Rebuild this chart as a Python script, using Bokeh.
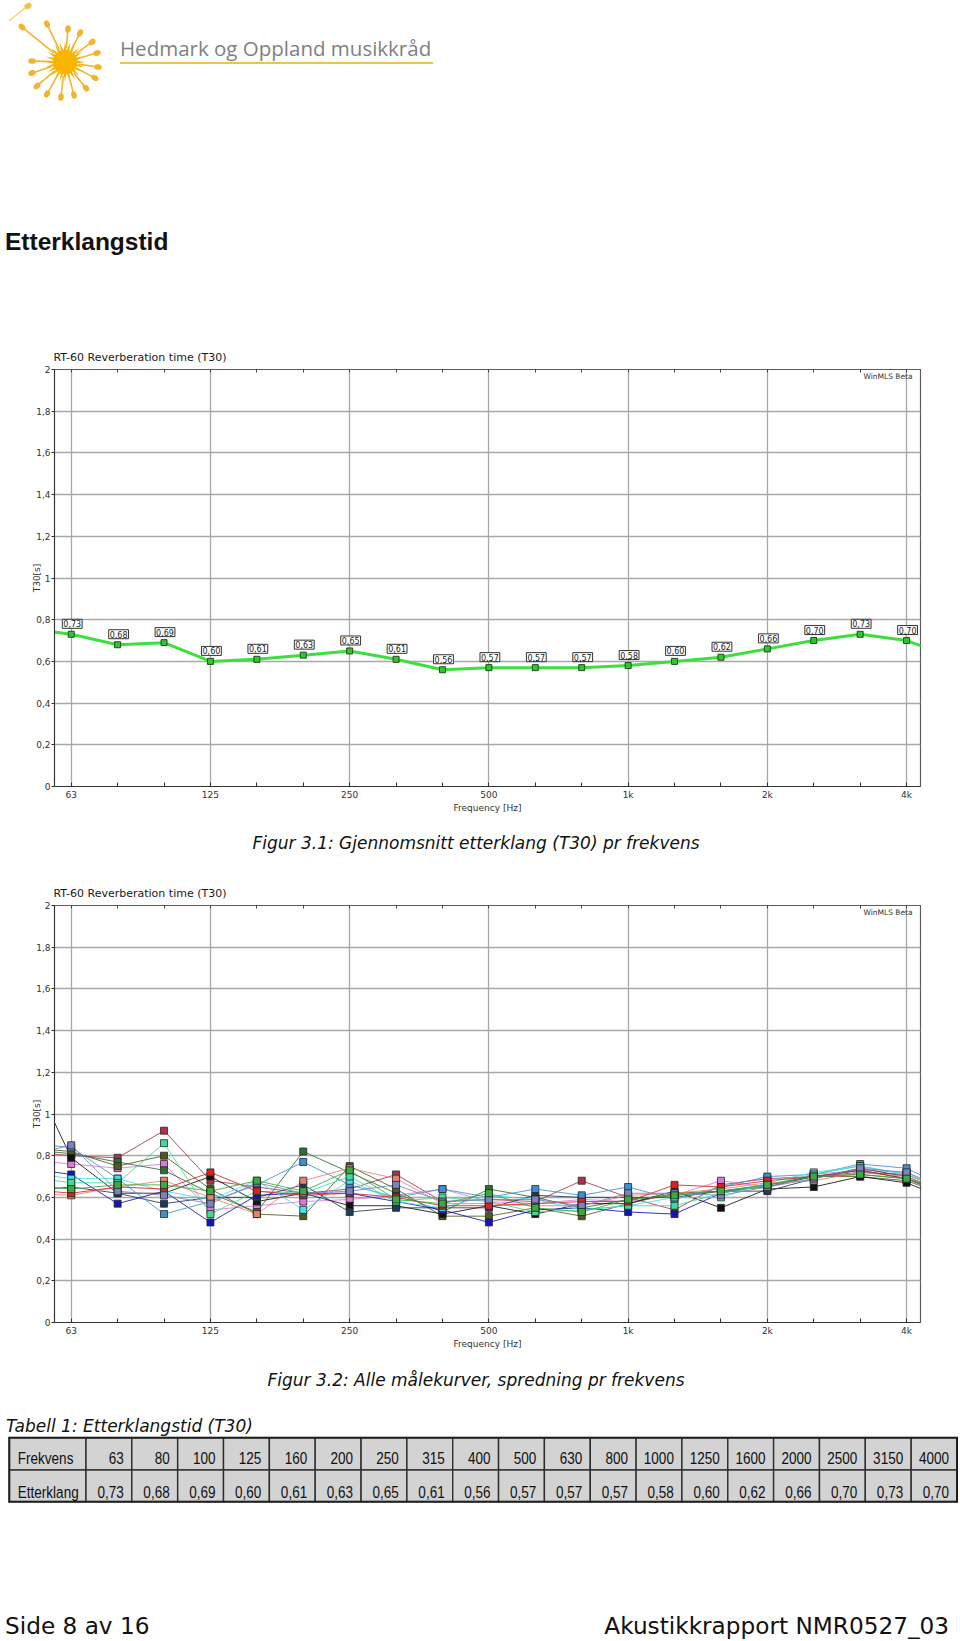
import numpy as np
from bokeh.plotting import figure
from bokeh.models import Range1d, LinearAxis, FixedTicker, Grid, Label, Title, Div
from bokeh.layouts import column
from bokeh.core.properties import value
from bokeh.embed import file_html
from bokeh.resources import INLINE

# ---------------- data ----------------
freqs = [63, 80, 100, 125, 160, 200, 250, 315, 400, 500, 630, 800, 1000, 1250, 1600, 2000, 2500, 3150, 4000]
t30_mean = [0.73, 0.68, 0.69, 0.60, 0.61, 0.63, 0.65, 0.61, 0.56, 0.57, 0.57, 0.57, 0.58, 0.60, 0.62, 0.66, 0.70, 0.73, 0.70]
edge_freqs = [50, 5000]                 # bands just outside the plotted range (curves run off the frame)
t30_mean_edge = [0.76, 0.62]
major_freqs = [63, 125, 250, 500, 1000, 2000, 4000]
x_tick_labels = ["63", "125", "250", "500", "1k", "2k", "4k"]
y_ticks = [i / 5 for i in range(11)]
y_tick_labels = ["0", "0,2", "0,4", "0,6", "0,8", "1", "1,2", "1,4", "1,6", "1,8", "2"]

# individual measurement curves, values at 50 Hz, 63 ... 4000 Hz, 5000 Hz
m01 = [0.82, 0.80, 0.79, 0.92, 0.68, 0.65, 0.62, 0.64, 0.71, 0.58, 0.59, 0.58, 0.68, 0.60, 0.54, 0.66, 0.69, 0.70, 0.72, 0.71, 0.62]
m02 = [0.78, 0.76, 0.74, 0.76, 0.54, 0.56, 0.58, 0.59, 0.61, 0.64, 0.58, 0.57, 0.59, 0.58, 0.61, 0.68, 0.65, 0.71, 0.73, 0.72, 0.63]
m03 = [0.83, 0.81, 0.77, 0.73, 0.62, 0.53, 0.82, 0.72, 0.62, 0.53, 0.64, 0.60, 0.55, 0.59, 0.61, 0.63, 0.66, 0.70, 0.71, 0.69, 0.62]
m04 = [0.84, 0.82, 0.75, 0.80, 0.64, 0.52, 0.51, 0.75, 0.64, 0.51, 0.51, 0.55, 0.51, 0.57, 0.62, 0.63, 0.65, 0.70, 0.70, 0.68, 0.60]
m05 = [1.26, 0.79, 0.62, 0.62, 0.70, 0.58, 0.62, 0.56, 0.56, 0.52, 0.56, 0.52, 0.57, 0.57, 0.63, 0.55, 0.64, 0.65, 0.70, 0.67, 0.58]
m06 = [0.63, 0.65, 0.62, 0.57, 0.60, 0.60, 0.66, 0.53, 0.55, 0.55, 0.55, 0.61, 0.60, 0.60, 0.60, 0.63, 0.63, 0.69, 0.74, 0.70, 0.61]
m07 = [0.74, 0.71, 0.57, 0.63, 0.48, 0.61, 0.62, 0.62, 0.58, 0.54, 0.48, 0.54, 0.55, 0.53, 0.52, 0.62, 0.66, 0.70, 0.73, 0.69, 0.60]
m08 = [0.86, 0.84, 0.69, 0.52, 0.58, 0.66, 0.77, 0.66, 0.60, 0.64, 0.60, 0.64, 0.61, 0.65, 0.59, 0.65, 0.70, 0.71, 0.76, 0.74, 0.63]
m09 = [0.72, 0.69, 0.69, 0.63, 0.59, 0.68, 0.54, 0.68, 0.58, 0.55, 0.61, 0.59, 0.54, 0.56, 0.60, 0.60, 0.67, 0.72, 0.75, 0.71, 0.62]
m10 = [0.70, 0.67, 0.67, 0.86, 0.52, 0.63, 0.62, 0.70, 0.58, 0.60, 0.58, 0.53, 0.54, 0.56, 0.56, 0.62, 0.66, 0.71, 0.75, 0.71, 0.62]
m11 = [0.62, 0.61, 0.65, 0.68, 0.60, 0.52, 0.68, 0.74, 0.69, 0.57, 0.57, 0.56, 0.56, 0.61, 0.62, 0.64, 0.67, 0.68, 0.72, 0.70, 0.61]
m12 = [0.64, 0.62, 0.65, 0.64, 0.72, 0.63, 0.61, 0.62, 0.60, 0.56, 0.56, 0.57, 0.58, 0.58, 0.66, 0.65, 0.68, 0.70, 0.73, 0.69, 0.60]
m13 = [0.80, 0.85, 0.63, 0.61, 0.57, 0.67, 0.62, 0.63, 0.66, 0.58, 0.59, 0.59, 0.56, 0.62, 0.62, 0.61, 0.65, 0.69, 0.74, 0.72, 0.62]
m14 = [0.66, 0.64, 0.66, 0.66, 0.63, 0.68, 0.63, 0.73, 0.59, 0.57, 0.62, 0.55, 0.53, 0.59, 0.61, 0.63, 0.66, 0.70, 0.71, 0.69, 0.60]
curves = [m01, m02, m03, m04, m05, m06, m07, m08, m09, m10, m11, m12, m13, m14]
curve_colors = ["#b0304e", "#dc78dc", "#2d6e35", "#505a1e", "#111111", "#1e3a5c", "#1414b8",
                "#3d8fd6", "#40e2ec", "#3cdc9c", "#e88070", "#d82222", "#7b82c0", "#3daa3d"]

row_labels = ["Frekvens", "Etterklang"]

logo_text = "Hedmark og Oppland musikkråd"
heading = "Etterklangstid"
chart_title = "RT-60 Reverberation time (T30)"
caption1 = "Figur 3.1: Gjennomsnitt etterklang (T30) pr frekvens"
caption2 = "Figur 3.2: Alle målekurver, spredning pr frekvens"
table_title = "Tabell 1: Etterklangstid (T30)"
footer_left = "Side 8 av 16"
footer_right = "Akustikkrapport NMR0527_03"


def comma(v):
    return f"{v:.2f}".replace(".", ",")


# ---------------- layout constants ----------------
W = 958
FONT = "DejaVu Sans"
FRAME_L, FRAME_R, FRAME_H = 54, 920, 417
band = list(range(len(freqs)))
band_ext = [-1] + band + [len(freqs)]
x_major = [freqs.index(f) for f in major_freqs]


def svg_div(y0, h, body):
    svg = (f'<svg xmlns="http://www.w3.org/2000/svg" width="{W}" height="{h}" '
           f'viewBox="0 {y0} {W} {h}" style="display:block">{body}</svg>')
    return Div(text=svg, width=W, height=h, margin=0)


def svg_text(x, y, s, family, size, anchor="start", style="normal", weight="normal",
             color="#111111", sx=1.0):
    css = (f"font-family:'{family}';font-size:{size}px;font-style:{style};"
           f"font-weight:{weight};fill:{color};text-anchor:{anchor}")
    return (f'<text transform="translate({x:.1f},{y:.1f}) scale({sx},1)" style="{css}">{s}</text>')


def chart(y0, h, frame_top):
    p = figure(width=W, height=h,
               x_range=Range1d(-0.36, len(freqs) - 1 + 0.30), y_range=Range1d(0, 2),
               x_axis_type=None, y_axis_type=None, toolbar_location=None, output_backend="svg",
               min_border_left=FRAME_L, min_border_right=W - FRAME_R,
               min_border_top=frame_top - y0, min_border_bottom=y0 + h - frame_top - FRAME_H)
    p.background_fill_color = "white"
    p.border_fill_color = "white"
    p.outline_line_color = "#5c5c5c"
    p.outline_line_width = 1.2
    p.title = Title(text=chart_title, align="left", offset=-1, standoff=11,
                    text_font=FONT, text_font_size="11px", text_font_style="normal", text_color="#1a1a1a")
    p.add_layout(Grid(dimension=0, ticker=FixedTicker(ticks=x_major),
                      grid_line_color="#a8a8a8", grid_line_width=1.3))
    p.add_layout(Grid(dimension=1, ticker=FixedTicker(ticks=y_ticks),
                      grid_line_color="#a8a8a8", grid_line_width=1.3))
    xb = LinearAxis(ticker=FixedTicker(ticks=x_major, minor_ticks=band),
                    major_label_overrides=dict(zip(x_major, x_tick_labels)),
                    axis_label="Frequency [Hz]",
                    axis_line_color="#333333", major_tick_in=0, major_tick_out=0,
                    minor_tick_in=4, minor_tick_out=0, minor_tick_line_color="#333333",
                    major_label_standoff=3, major_label_text_font=FONT, major_label_text_font_size="9px",
                    major_label_text_color="#333333",
                    axis_label_text_font=FONT, axis_label_text_font_size="9px",
                    axis_label_text_font_style="normal", axis_label_text_color="#333333",
                    axis_label_standoff=0)
    p.add_layout(xb, "below")
    yl = LinearAxis(ticker=FixedTicker(ticks=y_ticks),
                    major_label_overrides=dict(zip(y_ticks, y_tick_labels)),
                    axis_label="T30[s]",
                    axis_line_color="#333333", major_tick_in=0, major_tick_out=3,
                    major_tick_line_color="#333333", minor_tick_line_color=None,
                    major_label_standoff=1, major_label_text_font=FONT, major_label_text_font_size="9px",
                    major_label_text_color="#333333",
                    axis_label_text_font=FONT, axis_label_text_font_size="9px",
                    axis_label_text_font_style="normal", axis_label_text_color="#333333",
                    axis_label_standoff=-9)
    p.add_layout(yl, "left")
    xt = LinearAxis(ticker=FixedTicker(ticks=band),
                    major_label_overrides={b: "" for b in band},
                    axis_line_color=None, major_tick_in=3, major_tick_out=0,
                    major_tick_line_color="#444444", minor_tick_line_color=None,
                    major_label_standoff=0, major_label_text_font_size="1px")
    p.add_layout(xt, "above")
    p.add_layout(Label(x=len(freqs) - 1 + 0.13, y=2, y_offset=-2, text="WinMLS Beta",
                       text_align="right", text_baseline="top", text_font=FONT,
                       text_font_size="7.5px", text_color="#333333"))
    return p


# ---------------- header (logo + heading) ----------------
cx, cy = 65, 62
k = np.arange(48)
rr = np.where(k % 2 == 0, 20, 11)
ang = k * np.pi / 24
star = " ".join(f"{cx + r * np.cos(a):.1f},{cy + r * np.sin(a):.1f}" for r, a in zip(rr, ang))
parts = [f'<polygon points="{star}" fill="#f5b301"/>',
         f'<circle cx="{cx}" cy="{cy}" r="12" fill="#f7b500"/>']
heads = [(22, 27), (47, 24), (68, 29), (80, 33), (92, 42), (97, 53), (98, 67), (95, 78),
         (86, 88), (74, 95), (61, 97), (47, 94), (37, 86), (32, 73), (32, 61)]
for hx, hy in heads:
    ddx, ddy = hx - cx, hy - cy
    d = float(np.hypot(ddx, ddy))
    ux, uy = ddx / d, ddy / d
    deg = float(np.degrees(np.arctan2(ddy, ddx)))
    parts.append(f'<line x1="{cx + ux * 14:.1f}" y1="{cy + uy * 14:.1f}" x2="{hx - ux * 2:.1f}" '
                 f'y2="{hy - uy * 2:.1f}" stroke="#f0b52c" stroke-width="1.6"/>')
    parts.append(f'<ellipse cx="{hx}" cy="{hy}" rx="3.8" ry="2.8" transform="rotate({deg:.0f} {hx} {hy})" '
                 f'fill="#f0b52c"/>')
parts.append('<line x1="9" y1="21" x2="25" y2="8" stroke="#f4d27a" stroke-width="1.5"/>')
parts.append('<ellipse cx="28" cy="6" rx="3.8" ry="2.8" transform="rotate(-30 28 6)" fill="#f2c24a"/>')
parts.append(svg_text(120, 56, logo_text, "Open Sans", 20.5, color="#7f7f7f"))
parts.append('<line x1="120" y1="63" x2="433" y2="63" stroke="#e9c64b" stroke-width="2"/>')
parts.append(svg_text(5, 250, heading, "Liberation Sans", 24.5, weight="bold"))
d1 = svg_div(0, 335, "".join(parts))

# ---------------- chart 1 ----------------
c1 = chart(335, 487, 369)
c1.line(band_ext, [t30_mean_edge[0]] + t30_mean + [t30_mean_edge[1]],
        line_color="#3ddf3d", line_width=3)
c1.scatter(band, t30_mean, marker="square", size=6, fill_color="#35c235",
           line_color="#1d4f1d", line_width=1)
c1.text(band, t30_mean, text=[comma(v) for v in t30_mean], text_align="center",
        text_baseline="bottom", x_offset=1, y_offset=-6, text_font=value(FONT),
        text_font_size="8px", text_color="#222222", background_fill_color="white",
        border_line_color="#333333", border_line_width=1, padding=1)

# ---------------- caption 1 ----------------
d3 = svg_div(822, 50, svg_text(476, 849, caption1, FONT, 17, anchor="middle", style="italic"))

# ---------------- chart 2 ----------------
c2 = chart(872, 483, 905)
for vals, col in zip(curves, curve_colors):
    c2.line(band_ext, vals, line_color=col, line_width=1, line_alpha=0.85)
for vals, col in zip(curves, curve_colors):
    c2.scatter(band, vals[1:-1], marker="square", size=7, fill_color=col,
               line_color="#262626", line_width=0.8)

# ---------------- caption 2, table, footer ----------------
tparts = [svg_text(476, 1386, caption2, FONT, 17, anchor="middle", style="italic"),
          svg_text(6, 1432, table_title, FONT, 17, style="italic")]
col_edges = [9.3] + list(np.linspace(86.0, 957.0, len(freqs) + 1))
row_edges = [1437.7, 1470.0, 1501.7]
for r in range(2):
    for c in range(len(col_edges) - 1):
        tparts.append(f'<rect x="{col_edges[c]:.1f}" y="{row_edges[r]:.1f}" '
                      f'width="{col_edges[c + 1] - col_edges[c]:.1f}" height="{row_edges[r + 1] - row_edges[r]:.1f}" '
                      f'fill="#d3d3d3" stroke="#2e2e2e" stroke-width="1.4"/>')
tparts.append(f'<rect x="{col_edges[0]:.1f}" y="{row_edges[0]:.1f}" width="{col_edges[-1] - col_edges[0]:.1f}" '
              f'height="{row_edges[-1] - row_edges[0]:.1f}" fill="none" stroke="#1e1e1e" stroke-width="2"/>')
row_texts = [[str(f) for f in freqs], [comma(v) for v in t30_mean]]
baselines = [1464.3, 1497.7]
for r in range(2):
    tparts.append(svg_text(col_edges[0] + 8.5, baselines[r], row_labels[r], "Liberation Sans", 16.5, sx=0.82))
    for c, s in enumerate(row_texts[r]):
        tparts.append(svg_text(col_edges[c + 2] - 8, baselines[r], s, "Liberation Sans", 16.5,
                               anchor="end", sx=0.82))
tparts.append(svg_text(5, 1634, footer_left, FONT, 23.2))
tparts.append(svg_text(949, 1634, footer_right, FONT, 23.2, anchor="end"))
d5 = svg_div(1355, 285, "".join(tparts))

page = column(d1, c1, d3, c2, d5, spacing=0)
open("out.html", "w", encoding="utf-8").write(file_html(page, INLINE))
